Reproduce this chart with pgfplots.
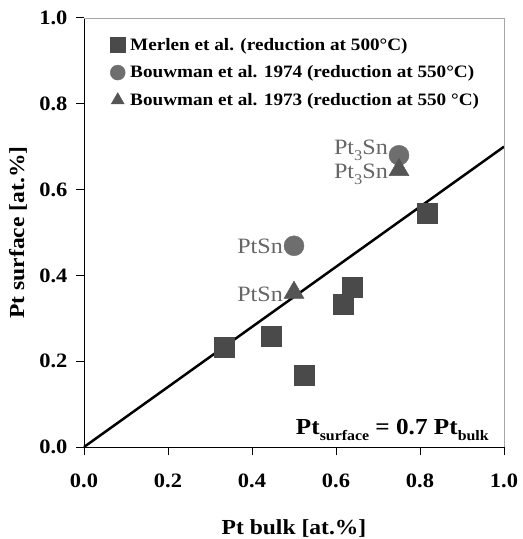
\documentclass[border=0pt]{standalone}
\usepackage{fontspec}
\setmainfont{Liberation Serif}[FakeStretch=1.1]
\usepackage{graphicx}
\usepackage{pgfplots}
\pgfplotsset{compat=1.18}
\definecolor{sqc}{HTML}{4A4A4A}
\definecolor{cic}{HTML}{6E6E6E}
\definecolor{trc}{HTML}{555555}
\definecolor{labgray}{HTML}{666666}
\newcommand\sub[2][14.5]{\raisebox{-0.26em}{\fontsize{#1}{#1}\selectfont #2}}
\begin{document}
\begin{tikzpicture}
\useasboundingbox (-84bp,-92bp) rectangle (439bp,447bp);
\begin{axis}[
  scale only axis, width=420bp, height=429bp,
  xmin=0, xmax=1, ymin=0, ymax=1,
  axis x line*=bottom, axis y line*=left,
  axis line style={line width=1pt, black},
  xtick={0,0.2,0.4,0.6,0.8,1.0}, ytick={0,0.2,0.4,0.6,0.8,1.0},
  tick align=outside, major tick length=8bp,
  tick style={black, line width=1pt},
  /pgf/number format/.cd, fixed, fixed zerofill, precision=1, assume math mode=true,
  /pgfplots/.cd,
  tick label style={font=\bfseries\fontsize{20.5}{20.5}\selectfont},
  x tick label style={yshift=-15bp},
  y tick label style={xshift=-5bp},
  xlabel={Pt bulk [at.\%]}, ylabel={Pt surface [at.\%]},
  label style={font=\bfseries\fontsize{21.5}{21.5}\selectfont},
  x label style={at={(axis description cs:0.5,-0.204)}, anchor=base},
  y label style={at={(axis description cs:-0.157,0.5)}, anchor=center},
  legend style={at={(axis description cs:0.062,0.958)}, anchor=north west, draw=none, fill=none,
    font=\bfseries\fontsize{17.5}{17.5}\selectfont, row sep=10bp, column sep=3bp, inner sep=0pt},
  legend cell align=left,
  legend image code/.code={\draw[#1, mark size=7.5bp] plot coordinates {(0bp,0bp)};},
  clip=false,
]
\addplot[only marks, mark=square*, mark size=10bp, color=sqc] coordinates {
  (0.333,0.233) (0.445,0.259) (0.524,0.168) (0.617,0.333) (0.638,0.373) (0.817,0.545)};
\addlegendentry{Merlen et al. (reduction at 500°C)}
\addplot[only marks, mark=*, mark size=10bp, color=cic] coordinates {
  (0.5,0.469) (0.75,0.68)};
\addlegendentry{Bouwman et al. 1974 (reduction at 550°C)}
\addplot[only marks, mark=triangle*, mark size=11.5bp, color=trc] coordinates {
  (0.5,0.36) (0.75,0.646)};
\addlegendentry{Bouwman et al. 1973 (reduction at 550 °C)}
\addplot[black, line width=2.5pt, forget plot] coordinates {(0,0) (1,0.7)};
\draw[gray!70, line width=0.6pt] (rel axis cs:0,1) -- (rel axis cs:1,1) -- (rel axis cs:1,0);
\node[anchor=base east, text=labgray, font=\fontsize{22}{22}\selectfont, inner sep=0pt] at (axis cs:0.724,0.681) {Pt\sub[15]{3}Sn};
\node[anchor=base east, text=labgray, font=\fontsize{22}{22}\selectfont, inner sep=0pt] at (axis cs:0.724,0.625) {Pt\sub[15]{3}Sn};
\node[anchor=base east, text=labgray, font=\fontsize{22}{22}\selectfont, inner sep=0pt] at (axis cs:0.474,0.452) {PtSn};
\node[anchor=base east, text=labgray, font=\fontsize{22}{22}\selectfont, inner sep=0pt] at (axis cs:0.474,0.339) {PtSn};
\node[anchor=base east, font=\bfseries\fontsize{23}{23}\selectfont, inner sep=0pt] at (axis cs:0.964,0.028) {Pt\sub{surface} = 0.7 Pt\sub{bulk}};
\end{axis}
\end{tikzpicture}
\end{document}
